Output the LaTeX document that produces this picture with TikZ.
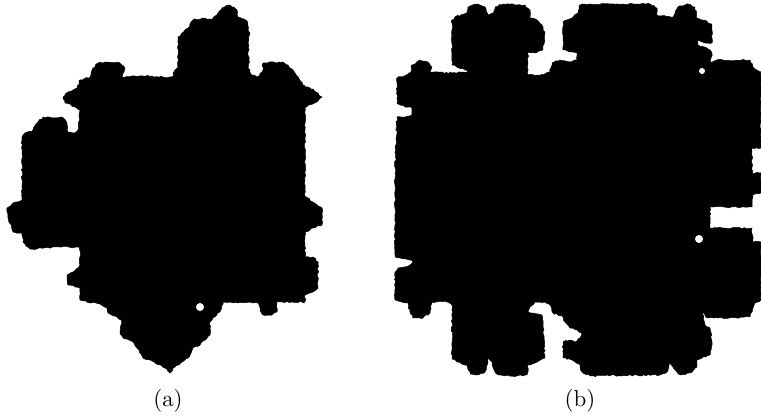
\documentclass[tikz,border=0pt]{standalone}
\usepackage{tikz}
\usetikzlibrary{decorations.pathmorphing}
\tikzset{
  tilefill/.style={
    fill=black,draw=black,line width=0.2pt,
    decorate,decoration={random steps,segment length=1pt,amplitude=0.35pt}
  },
  tilehole/.style={fill=white},
  caplabel/.style={font=\normalsize,inner sep=1pt}
}
\pgfmathsetseed{7}

\begin{document}
\begin{tikzpicture}[x=0.435pt,y=-0.435pt]
  \useasboundingbox (0,0) rectangle (761,416);
  % tile (a)
  \path[tilefill] (218,13) -- (222,8) -- (230,5) -- (237,10) -- (238,17) -- (247,21)
    -- (248,30) -- (250,33) -- (248,43) -- (249,60) -- (248,68) -- (252,75) -- (257,77)
    -- (262,72) -- (263,63) -- (283,62) -- (288,65) -- (290,68) -- (293,70) -- (302,82)
    -- (305,87) -- (313,89) -- (322,97) -- (317,102) -- (305,107) -- (305,190)
    -- (305,196) -- (313,202) -- (322,208) -- (322,225) -- (313,228) -- (305,232)
    -- (305,257) -- (313,257) -- (318,262) -- (318,288) -- (313,292) -- (305,295)
    -- (305,302) -- (277,302) -- (277,312) -- (272,315) -- (263,315) -- (260,308)
    -- (258,303) -- (223,302) -- (220,312) -- (213,318) -- (210,322) -- (210,335)
    -- (200,345) -- (193,348) -- (188,358) -- (182,362) -- (175,367) -- (170,373)
    -- (165,368) -- (160,365) -- (150,360) -- (143,358) -- (137,348) -- (133,342)
    -- (123,338) -- (120,332) -- (122,322) -- (117,317) -- (108,313) -- (107,308)
    -- (100,304) -- (87,302) -- (80,300) -- (80,288) -- (68,285) -- (67,275)
    -- (73,272) -- (80,265) -- (80,247) -- (60,247) -- (30,249) -- (23,242)
    -- (22,233) -- (13,232) -- (8,218) -- (7,208) -- (13,203) -- (22,200)
    -- (22,137) -- (25,133) -- (33,130) -- (38,122) -- (43,117) -- (53,118)
    -- (62,117) -- (67,123) -- (68,132) -- (75,133) -- (78,130) -- (80,110)
    -- (75,107) -- (65,103) -- (63,97) -- (68,92) -- (77,88) -- (80,80) -- (90,77)
    -- (93,68) -- (98,63) -- (105,62) -- (120,63) -- (125,68) -- (122,77)
    -- (143,76) -- (172,77) -- (175,70) -- (178,67) -- (178,37) -- (182,33)
    -- (188,28) -- (193,20) -- (203,18) -- (212,20) -- cycle;
  \fill[tilehole] (200,307) circle [radius=4];
  % tile (b)
  \path[tilefill] (452,20) -- (455,17) -- (467,13) -- (468,7) -- (477,4) -- (485,7)
    -- (488,15) -- (493,13) -- (495,7) -- (503,4) -- (517,5) -- (525,5) -- (530,10)
    -- (530,18) -- (537,20) -- (542,25) -- (545,33) -- (543,50) -- (535,53)
    -- (528,52) -- (528,75) -- (543,75) -- (550,72) -- (552,63) -- (560,60)
    -- (570,62) -- (577,60) -- (577,53) -- (572,52) -- (563,50) -- (563,22)
    -- (572,18) -- (578,13) -- (580,5) -- (590,4) -- (623,4) -- (650,4) -- (657,8)
    -- (657,15) -- (673,17) -- (678,7) -- (688,4) -- (695,7) -- (697,18) -- (705,20)
    -- (712,25) -- (712,43) -- (705,43) -- (698,40) -- (698,45) -- (707,48)
    -- (712,53) -- (710,62) -- (717,60) -- (750,60) -- (753,67) -- (761,72)
    -- (761,148) -- (752,148) -- (752,173) -- (761,173) -- (761,193) -- (753,195)
    -- (752,207) -- (710,207) -- (710,228) -- (752,228) -- (753,242) -- (761,242)
    -- (761,300) -- (755,303) -- (750,317) -- (737,318) -- (707,318) -- (703,313)
    -- (698,308) -- (697,303) -- (703,312) -- (705,325) -- (710,328) -- (712,342)
    -- (710,355) -- (702,358) -- (697,360) -- (697,367) -- (690,373) -- (680,375)
    -- (673,367) -- (670,362) -- (667,372) -- (660,375) -- (590,376) -- (582,372)
    -- (580,365) -- (572,360) -- (563,358) -- (563,342) -- (570,340) -- (575,342)
    -- (580,338) -- (582,333) -- (577,330) -- (570,328) -- (565,322) -- (563,317)
    -- (553,313) -- (550,305) -- (545,302) -- (535,302) -- (530,307) -- (528,312)
    -- (533,313) -- (542,315) -- (543,325) -- (545,358) -- (537,362) -- (528,365)
    -- (527,375) -- (517,376) -- (500,375) -- (495,372) -- (492,362) -- (488,358)
    -- (487,365) -- (485,372) -- (477,375) -- (470,374) -- (467,365) -- (457,362)
    -- (452,358) -- (452,305) -- (447,302) -- (432,302) -- (430,313) -- (423,318)
    -- (413,318) -- (410,312) -- (408,303) -- (398,301) -- (395,300) -- (395,272)
    -- (398,268) -- (410,265) -- (413,262) -- (410,260) -- (400,258) -- (395,257)
    -- (395,173) -- (397,117) -- (405,117) -- (412,115) -- (412,108) -- (405,107)
    -- (397,103) -- (397,78) -- (407,75) -- (410,73) -- (412,65) -- (420,60)
    -- (428,62) -- (432,67) -- (430,72) -- (452,73) -- (468,72) -- (465,70)
    -- (452,65) -- cycle;
  \fill[tilehole] (699,239) circle [radius=4];
  \fill[tilehole] (702,71) circle [radius=3];
  % captions
  \node[caplabel] (capA) at (168,401) {(a)};
  \node[caplabel] (capB) at (580,401) {(b)};
\end{tikzpicture}
\end{document}
